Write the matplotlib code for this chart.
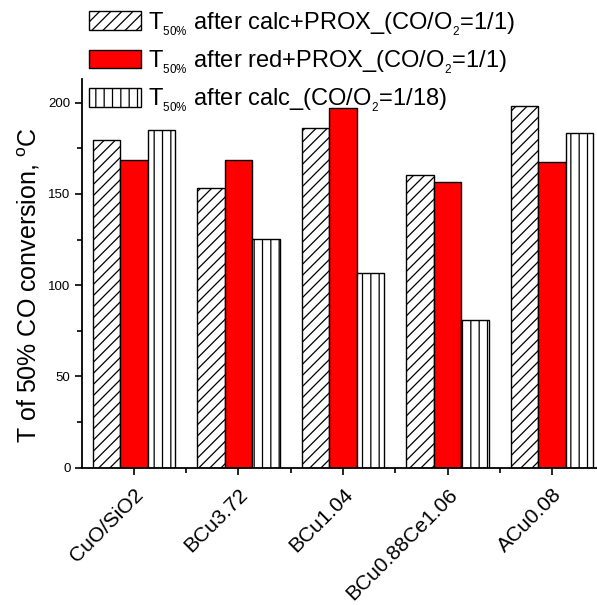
import matplotlib
matplotlib.use("Agg")
import matplotlib.pyplot as plt
import numpy as np

plt.rcParams['font.family'] = ['Liberation Sans', 'DejaVu Sans']
plt.rcParams['mathtext.fontset'] = 'custom'
plt.rcParams['mathtext.rm'] = 'Liberation Sans'
plt.rcParams['mathtext.it'] = 'Liberation Sans:italic'
plt.rcParams['mathtext.bf'] = 'Liberation Sans:bold'
plt.rcParams['hatch.linewidth'] = 0.9

categories = ["CuO/SiO2", "BCu3.72", "BCu1.04", "BCu0.88Ce1.06", "ACu0.08"]
calc_prox = [179.5, 153.5, 186, 160.5, 198]
red_prox = [168.5, 168.5, 197, 156.5, 167.5]
calc_118 = [185, 125.5, 106.5, 81, 183.5]
labels = [r"T$_{_{50\%}}$ after calc+PROX_(CO/O$_{_2}$=1/1)",
          r"T$_{_{50\%}}$ after red+PROX_(CO/O$_{_2}$=1/1)",
          r"T$_{_{50\%}}$ after calc_(CO/O$_{_2}$=1/18)"]

fig = plt.figure(figsize=(5.97, 6.05), dpi=100)
ax = fig.add_axes([81.5/597, 137.3/605, 523/597, (467.7-79)/605])

x = np.arange(len(categories))
w = 0.263
b1 = ax.bar(x - w, calc_prox, w, facecolor='white', edgecolor='black', hatch='///', linewidth=1.0, label=labels[0])
b2 = ax.bar(x, red_prox, w, facecolor='#ff0000', edgecolor='black', linewidth=1.0, label=labels[1])
b3 = ax.bar(x + w, calc_118, w, facecolor='white', edgecolor='black', hatch='||', linewidth=1.0, label=labels[2])

ax.set_xlim(-0.5, 4.5)
ax.set_ylim(0, 213)
ax.set_yticks([0, 50, 100, 150, 200])
ax.set_yticks(np.arange(25, 213, 50), minor=True)
ax.set_xticks(x)
ax.set_xticks(np.arange(0.5, 4.5, 1.0), minor=True)
ax.set_xticklabels(categories, rotation=45, ha='right', rotation_mode='anchor', fontsize=15)
ax.tick_params(axis='y', labelsize=9.5, pad=3)
ax.tick_params(which='major', direction='out', length=5, width=1.2)
ax.tick_params(which='minor', direction='out', length=3.5, width=1.2)
ax.tick_params(axis='x', which='major', pad=7.5)
for s in ['top', 'right']:
    ax.spines[s].set_visible(False)
for s in ['left', 'bottom']:
    ax.spines[s].set_linewidth(1.3)
ax.set_ylabel(r"T of 50% CO conversion, $^{\mathrm{o}}$C", fontsize=18)
ax.yaxis.set_label_coords(-0.075, 0.47)

fig.legend(handles=[b1, b2, b3], labels=labels, loc='upper left',
           bbox_to_anchor=(89/597, 1 - 10/605), frameon=False, fontsize=17,
           handlelength=2.2, handleheight=0.85, handletextpad=0.3,
           labelspacing=0.45, borderpad=0, borderaxespad=0)

fig.savefig("out.png", dpi=100)
